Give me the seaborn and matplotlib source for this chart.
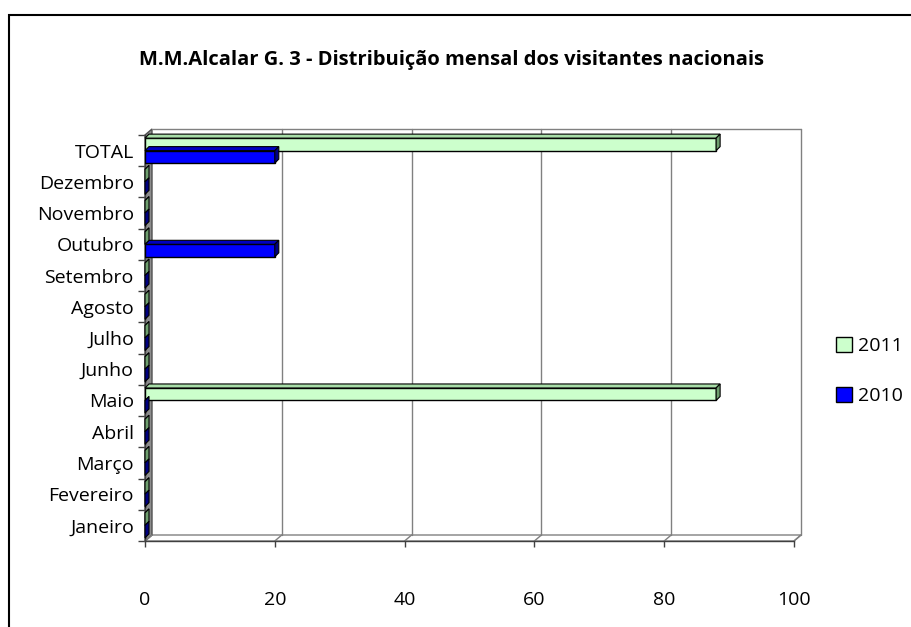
import matplotlib
matplotlib.use("Agg")
import matplotlib.pyplot as plt
import pandas as pd
import seaborn as sns
from matplotlib.lines import Line2D
from matplotlib.patches import Patch, Polygon, Rectangle
from matplotlib.transforms import IdentityTransform

# data (top to bottom, as drawn)
months = [
    "TOTAL", "Dezembro", "Novembro", "Outubro", "Setembro", "Agosto",
    "Julho", "Junho", "Maio", "Abril", "Março", "Fevereiro", "Janeiro",
]
visitors_2011 = [88, 0, 0, 0, 0, 0, 0, 0, 88, 0, 0, 0, 0]
visitors_2010 = [20, 0, 0, 20, 0, 0, 0, 0, 0, 0, 0, 0, 0]
years = ["2011", "2010"]
x_ticks = [0, 20, 40, 60, 80, 100]
title = "M.M.Alcalar G. 3 - Distribuição mensal dos visitantes nacionais"

colors = {"2011": "#CCFFCC", "2010": "#0000FF"}
top_faces = {"2011": "#A8DDA8", "2010": "#0000C0"}
side_faces = {"2011": "#6E9E6E", "2010": "#000080"}

df = pd.DataFrame(
    {
        "Mes": months * 2,
        "Ano": ["2011"] * len(months) + ["2010"] * len(months),
        "Visitantes": visitors_2011 + visitors_2010,
    }
)


def poly(ax, pts, **kw):
    p = Polygon(pts, closed=True, transform=IdentityTransform(), clip_on=False, **kw)
    ax.add_patch(p)


def main() -> None:
    sns.set_theme(style="white")
    plt.rcParams["font.family"] = ["Open Sans", "DejaVu Sans"]
    plt.rcParams["text.color"] = "black"

    fig = plt.figure(figsize=(9.12, 6.27), dpi=100)
    ax = fig.add_axes([145 / 912, 86 / 627, 649 / 912, 406 / 627])

    sns.barplot(
        data=df, y="Mes", x="Visitantes", hue="Ano", order=months,
        hue_order=years, palette=colors, saturation=1, width=0.8,
        edgecolor="black", linewidth=1, legend=False, ax=ax, zorder=3,
    )
    bars = list(ax.patches)
    n = len(months)
    ax.set_xlim(x_ticks[0], x_ticks[-1])
    ax.set_ylim(n - 0.5, -0.5)
    ax.set_xlabel("")
    ax.set_ylabel("")
    ax.set_facecolor("white")

    to_px = ax.transData.transform
    dx, dy = 7, 6
    (x0, yb), (x1, yt) = to_px([(x_ticks[0], n - 0.5), (x_ticks[-1], -0.5)])

    # floor, left wall, back wall grid
    poly(ax, [(x0, yb), (x1, yb), (x1 + dx, yb + dy), (x0 + dx, yb + dy)],
         fc="white", ec="#808080", lw=1, zorder=0.5)
    poly(ax, [(x0, yb), (x0, yt), (x0 + dx, yt + dy), (x0 + dx, yb + dy)],
         fc="#8C8C8C", ec="#505050", lw=1, zorder=0.6)
    for t in x_ticks:
        xp = to_px((t, 0))[0]
        ax.add_line(Line2D([xp, xp + dx], [yb, yb + dy], color="#808080", lw=1,
                           transform=IdentityTransform(), clip_on=False, zorder=0.7))
        if t > x_ticks[0]:
            ax.add_line(Line2D([xp + dx, xp + dx], [yb + dy, yt + dy], color="#808080",
                               lw=1, transform=IdentityTransform(), clip_on=False, zorder=0.7))
    ax.add_line(Line2D([x0 + dx, x1 + dx], [yt + dy, yt + dy], color="#808080", lw=1,
                       transform=IdentityTransform(), clip_on=False, zorder=0.7))

    # 3d faces of the bars
    bdx, bdy = 4, 4
    for i, b in enumerate(bars):
        year = years[i // n]
        (L, B), (R, T) = to_px([(b.get_x(), b.get_y() + b.get_height()),
                                (b.get_x() + b.get_width(), b.get_y())])
        poly(ax, [(L, T), (R, T), (R + bdx, T + bdy), (L + bdx, T + bdy)],
             fc=top_faces[year], ec="black", lw=0.8, zorder=3.1)
        poly(ax, [(R, B), (R, T), (R + bdx, T + bdy), (R + bdx, B + bdy)],
             fc=side_faces[year], ec="black", lw=0.8, zorder=3.2)

    for side in ["top", "right"]:
        ax.spines[side].set_visible(False)
    for side in ["left", "bottom"]:
        ax.spines[side].set_color("#404040")
        ax.spines[side].set_linewidth(1)

    ax.set_xticks(x_ticks)
    ax.set_xticklabels([str(t) for t in x_ticks])
    ax.set_yticks(range(n))
    ax.set_yticklabels(months)
    ax.set_yticks([i - 0.5 for i in range(n + 1)], minor=True)
    ax.tick_params(axis="x", which="major", length=4, width=1, color="#404040",
                   direction="out", pad=32, labelsize=14, labelcolor="black", bottom=True)
    ax.tick_params(axis="y", which="major", length=0, pad=8, labelsize=14,
                   labelcolor="black")
    ax.tick_params(axis="y", which="minor", length=5, width=1, color="#404040",
                   direction="out", left=True)

    handles = [Patch(fc=colors[y], ec="black", lw=1) for y in years]
    fig.legend(
        handles, years, loc="center left", bbox_to_anchor=(836 / 912, 1 - 371 / 627),
        frameon=False, fontsize=14, handlelength=0.8, handleheight=0.8,
        handletextpad=0.35, labelspacing=1.65, borderpad=0, borderaxespad=0,
        labelcolor="black",
    )

    fig.text(452 / 912, 1 - 60 / 627, title, ha="center", va="center",
             fontsize=14.5, fontweight="bold", color="black")

    fig.add_artist(Rectangle((9 / 912, -0.2), 1.5, 1.2 - 15 / 627,
                             transform=fig.transFigure, fill=False,
                             ec="black", lw=1.5))

    fig.savefig("out.png", dpi=100)
    plt.close(fig)


if __name__ == "__main__":
    main()
